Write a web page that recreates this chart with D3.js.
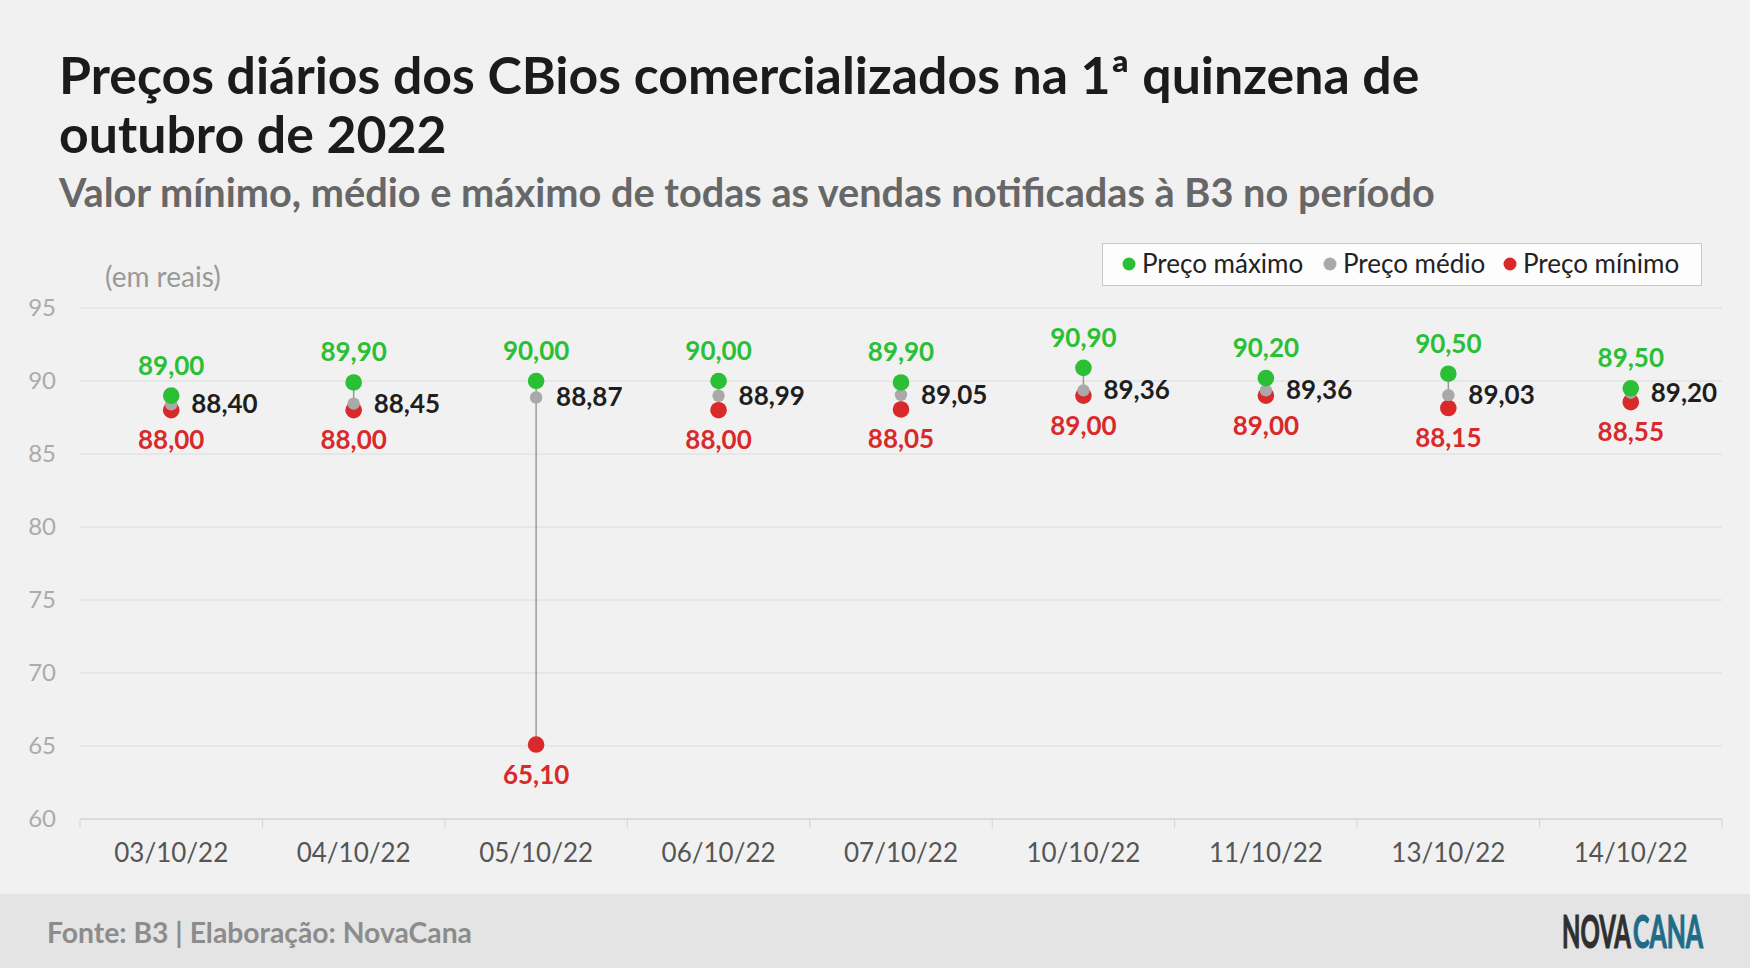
<!DOCTYPE html>
<html>
<head>
<meta charset="utf-8">
<script src="https://cdn.jsdelivr.net/npm/d3@7"></script>
<style>
  body { margin: 0; background: #f1f1f1; }
  text { font-family: Lato, "Open Sans", sans-serif; }
</style>
</head>
<body>
<script>
var width = 1750,
    height = 968;

// data
var dates = ["03/10/22", "04/10/22", "05/10/22", "06/10/22", "07/10/22", "10/10/22", "11/10/22", "13/10/22", "14/10/22"];
var maxPrice = [89.00, 89.90, 90.00, 90.00, 89.90, 90.90, 90.20, 90.50, 89.50];
var meanPrice = [88.40, 88.45, 88.87, 88.99, 89.05, 89.36, 89.36, 89.03, 89.20];
var minPrice = [88.00, 88.00, 65.10, 88.00, 88.05, 89.00, 89.00, 88.15, 88.55];
var yTicks = [60, 65, 70, 75, 80, 85, 90, 95];

var green = "#2bbf35",
    red = "#d9292b",
    gray = "#a9a9a9";

var fmt = function(v) { return d3.format(".2f")(v).replace(".", ","); };

var svg = d3.select("body").append("svg")
    .attr("width", width)
    .attr("height", height);

svg.append("rect")
    .attr("width", width)
    .attr("height", height)
    .attr("fill", "#f1f1f1");

// footer band
svg.append("rect")
    .attr("x", 0)
    .attr("y", 894)
    .attr("width", width)
    .attr("height", height - 894)
    .attr("fill", "#e4e4e4");

// titles
svg.append("text")
    .attr("x", 59).attr("y", 94)
    .attr("font-size", 51.8).attr("font-weight", 700).attr("fill", "#1b1b1b")
    .text("Preços diários dos CBios comercializados na 1ª quinzena de");
svg.append("text")
    .attr("x", 59).attr("y", 153)
    .attr("font-size", 51.8).attr("font-weight", 700).attr("fill", "#1b1b1b")
    .text("outubro de 2022");
svg.append("text")
    .attr("x", 59).attr("y", 207)
    .attr("font-size", 39.7).attr("font-weight", 700).attr("fill", "#676767")
    .text("Valor mínimo, médio e máximo de todas as vendas notificadas à B3 no período");

svg.append("text")
    .attr("x", 105).attr("y", 287)
    .attr("font-size", 28).attr("fill", "#999")
    .text("(em reais)");

// scales
var x = d3.scaleBand()
    .domain(dates)
    .range([80, 1722]);

var y = d3.scaleLinear()
    .domain([60, 95])
    .range([819, 308]);

// gridlines
svg.append("g")
  .selectAll("line")
  .data(yTicks)
  .join("line")
    .attr("x1", 80).attr("x2", 1722)
    .attr("y1", function(d) { return y(d); })
    .attr("y2", function(d) { return y(d); })
    .attr("stroke", function(d) { return d == 60 ? "#d4d4d4" : "#dcdcdc"; })
    .attr("stroke-width", function(d) { return d == 60 ? 1.5 : 1; });

// y labels
var yAxis = svg.append("g")
    .attr("transform", "translate(56,0)")
    .call(d3.axisLeft(y).tickValues(yTicks).tickSize(0).tickPadding(0));
yAxis.select(".domain").remove();
yAxis.selectAll("text")
    .attr("font-size", 24)
    .attr("font-family", "Lato, sans-serif")
    .attr("fill", "#ababab");

// x axis labels
var xAxis = svg.append("g")
    .attr("transform", "translate(0,819)")
    .call(d3.axisBottom(x).tickSize(0).tickPadding(0));
xAxis.select(".domain").remove();
xAxis.selectAll("text")
    .attr("y", 43)
    .attr("dy", 0)
    .attr("font-size", 26)
    .attr("font-family", "Lato, sans-serif")
    .attr("fill", "#555");

// tick marks between categories
var edges = dates.map(function(d) { return x(d); }).concat([x(dates[dates.length - 1]) + x.bandwidth()]);
svg.append("g")
  .selectAll("line")
  .data(edges)
  .join("line")
    .attr("x1", function(d) { return d; })
    .attr("x2", function(d) { return d; })
    .attr("y1", 819).attr("y2", 828)
    .attr("stroke", "#d4d4d4");

var cx = function(i) { return x(dates[i]) + x.bandwidth() / 2; };

var pts = svg.append("g");

// connecting lines
pts.selectAll(".range")
  .data(dates)
  .join("line")
    .attr("class", "range")
    .attr("x1", function(d, i) { return cx(i); })
    .attr("x2", function(d, i) { return cx(i); })
    .attr("y1", function(d, i) { return y(maxPrice[i]); })
    .attr("y2", function(d, i) { return y(minPrice[i]); })
    .attr("stroke", "#9a9a9a")
    .attr("stroke-width", 1.5);

pts.selectAll(".minDot")
  .data(minPrice)
  .join("circle")
    .attr("class", "minDot")
    .attr("cx", function(d, i) { return cx(i); })
    .attr("cy", function(d) { return y(d); })
    .attr("r", 8.3)
    .attr("fill", red);

pts.selectAll(".meanDot")
  .data(meanPrice)
  .join("circle")
    .attr("class", "meanDot")
    .attr("cx", function(d, i) { return cx(i); })
    .attr("cy", function(d) { return y(d); })
    .attr("r", 6.2)
    .attr("fill", gray);

pts.selectAll(".maxDot")
  .data(maxPrice)
  .join("circle")
    .attr("class", "maxDot")
    .attr("cx", function(d, i) { return cx(i); })
    .attr("cy", function(d) { return y(d); })
    .attr("r", 8.3)
    .attr("fill", green);

// value labels
pts.selectAll(".maxLabel")
  .data(maxPrice)
  .join("text")
    .attr("class", "maxLabel")
    .attr("x", function(d, i) { return cx(i); })
    .attr("y", function(d) { return y(d) - 21; })
    .attr("text-anchor", "middle")
    .attr("font-size", 26).attr("font-weight", 700)
    .attr("fill", green)
    .text(fmt);

pts.selectAll(".minLabel")
  .data(minPrice)
  .join("text")
    .attr("class", "minLabel")
    .attr("x", function(d, i) { return cx(i); })
    .attr("y", function(d) { return y(d) + 39; })
    .attr("text-anchor", "middle")
    .attr("font-size", 26).attr("font-weight", 700)
    .attr("fill", red)
    .text(fmt);

pts.selectAll(".meanLabel")
  .data(meanPrice)
  .join("text")
    .attr("class", "meanLabel")
    .attr("x", function(d, i) { return cx(i) + 20; })
    .attr("y", function(d) { return y(d) + 9; })
    .attr("font-size", 26).attr("font-weight", 700)
    .attr("fill", "#1e1e1e")
    .text(fmt);

// legend
var legend = svg.append("g");
legend.append("rect")
    .attr("x", 1102.5).attr("y", 243.5)
    .attr("width", 599).attr("height", 42)
    .attr("fill", "#fdfdfd")
    .attr("stroke", "#c8c8c8");

var legendItems = [
  {label: "Preço máximo", color: green, x: 1129},
  {label: "Preço médio", color: gray, x: 1330},
  {label: "Preço mínimo", color: red, x: 1510}
];
legendItems.forEach(function(it) {
  legend.append("circle")
      .attr("cx", it.x).attr("cy", 264).attr("r", 6.5)
      .attr("fill", it.color);
  legend.append("text")
      .attr("x", it.x + 13).attr("y", 273)
      .attr("font-size", 26).attr("fill", "#222")
      .text(it.label);
});

// footer
svg.append("text")
    .attr("x", 47).attr("y", 943)
    .attr("font-size", 28.3).attr("font-weight", 700).attr("fill", "#8c8c8c")
    .text("Fonte: B3 | Elaboração: NovaCana");

// logo: two condensed words squeezed to fit
var logoFont = "'Liberation Sans Narrow', 'DejaVu Sans Condensed', sans-serif";
function logoWord(word, x0, w, color) {
  var t = svg.append("text")
      .attr("font-family", logoFont)
      .attr("font-size", 46).attr("font-weight", 700)
      .attr("fill", color)
      .attr("stroke", color)
      .attr("stroke-width", 1.2)
      .text(word);
  var k = w / t.node().getComputedTextLength();
  t.attr("transform", "translate(" + x0 + ",948) scale(" + k + ",1)");
}
logoWord("NOVA", 1562, 69, "#2f2f2f");
logoWord("CANA", 1633, 70, "#1f6c88");
</script>
</body>
</html>
